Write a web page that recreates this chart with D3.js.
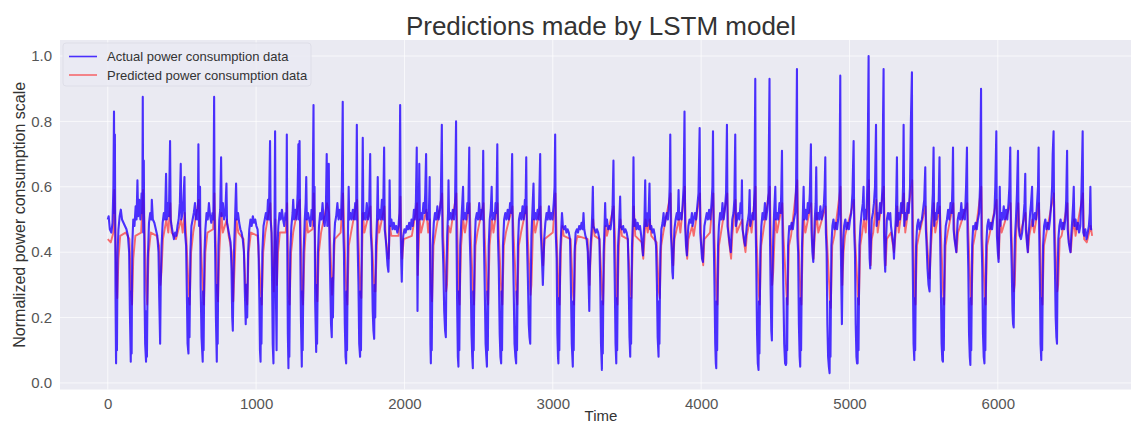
<!DOCTYPE html>
<html>
<head>
<meta charset="utf-8">
<script src="https://cdn.jsdelivr.net/npm/d3@7"></script>
<style>
  body { margin: 0; background: #fff; }
  svg { display: block; font-family: "Liberation Sans", Arial, sans-serif; }
</style>
</head>
<body>
<svg id="chart" width="1131" height="426"></svg>
<script>

var chartTitle = 'Predictions made by LSTM model';
var xLabel = 'Time';
var yLabel = 'Normalized power consumption scale';
var legendLabels = ['Actual power consumption data', 'Predicted power consumption data'];
var xTicks = [0, 1000, 2000, 3000, 4000, 5000, 6000];
var yTicks = [0.0, 0.2, 0.4, 0.6, 0.8, 1.0];

// actual series, readings [time, value]
var actualA = [[0,0.50],[6,0.51],[14,0.47],[24,0.46],[32,0.49],[38,0.60],[42,0.83],[45,0.52],[48,0.76],[52,0.28],[56,0.06],[59,0.30],[62,0.10],[66,0.40],[72,0.47],[80,0.51],[88,0.53],[96,0.50],[106,0.49],[116,0.48],[126,0.47],[136,0.45],[144,0.40],[149,0.22],[155,0.065],[158,0.28],[161,0.09],[165,0.42],[172,0.50],[180,0.48],[188,0.54],[194,0.50],[200,0.62],[205,0.51],[212,0.56],[220,0.50],[228,0.58],[233,0.52],[236,0.875],[239,0.46],[243,0.68],[248,0.26],[252,0.12],[258,0.065],[261,0.22],[264,0.08],[270,0.38],[278,0.49],[286,0.52],[294,0.50],[297,0.56],[304,0.50],[314,0.49],[324,0.47],[334,0.45],[342,0.40],[347,0.26],[353,0.12],[357,0.30],[363,0.42],[370,0.49],[378,0.52],[386,0.50],[393,0.64],[398,0.50],[406,0.55],[412,0.51],[420,0.74],[424,0.50],[430,0.48],[438,0.46],[446,0.44],[454,0.46],[462,0.45],[470,0.48],[478,0.50],[486,0.55],[492,0.67],[496,0.50],[504,0.52],[510,0.56],[517,0.63],[521,0.46],[528,0.42],[534,0.25],[538,0.12],[544,0.09],[547,0.26],[551,0.14],[557,0.40],[564,0.48],[572,0.50],[580,0.52],[588,0.55],[594,0.50],[602,0.53],[607,0.50],[611,0.73],[615,0.48],[622,0.60],[626,0.30],[632,0.14],[640,0.065],[643,0.28],[646,0.10],[652,0.40],[658,0.47],[666,0.52],[674,0.50],[682,0.55],[690,0.51],[698,0.49],[706,0.52],[712,0.50],[717,0.875],[720,0.52],[724,0.40],[729,0.20],[735,0.065],[738,0.30],[741,0.12],[746,0.42],[752,0.50],[758,0.53],[764,0.69],[768,0.51],[776,0.55],[784,0.50],[792,0.52],[800,0.61],[804,0.49],[812,0.47],[820,0.45],[828,0.43],[834,0.35],[839,0.20],[843,0.16],[847,0.30],[852,0.42],[858,0.50],[865,0.61],[870,0.50],[878,0.52],[886,0.49],[894,0.47],[902,0.46],[910,0.44],[918,0.40],[924,0.28],[930,0.18],[935,0.30],[940,0.20],[946,0.40],[954,0.47],[962,0.50],[970,0.48],[978,0.51],[986,0.49],[994,0.50],[1002,0.48],[1010,0.47],[1016,0.42],[1022,0.25],[1026,0.10],[1030,0.065],[1033,0.26],[1036,0.12],[1042,0.40],[1050,0.48],[1058,0.50],[1066,0.52],[1074,0.50],[1080,0.56],[1086,0.50],[1094,0.74],[1098,0.50],[1104,0.46],[1108,0.30],[1112,0.12],[1117,0.06],[1120,0.30],[1124,0.48],[1128,0.77],[1131,0.45],[1134,0.25],[1138,0.10],[1142,0.40],[1150,0.48],[1158,0.52],[1166,0.50],[1174,0.53],[1182,0.50],[1190,0.48],[1198,0.52],[1204,0.50],[1207,0.76],[1210,0.42],[1214,0.15],[1218,0.045],[1221,0.25],[1224,0.08],[1230,0.40],[1238,0.48],[1246,0.52],[1250,0.56],[1256,0.50],[1264,0.53],[1272,0.50],[1280,0.58],[1285,0.73],[1288,0.50],[1293,0.74],[1297,0.45],[1302,0.20],[1308,0.05],[1311,0.28],[1314,0.10],[1320,0.40],[1328,0.50],[1334,0.55],[1338,0.63],[1342,0.50],[1350,0.52],[1358,0.50],[1366,0.48],[1374,0.53],[1380,0.50],[1387,0.85],[1390,0.48],[1394,0.60],[1398,0.25],[1405,0.095],[1408,0.30],[1411,0.12],[1417,0.40]];

var actualB = [[1424,0.48],[1432,0.52],[1440,0.50],[1448,0.55],[1455,0.50],[1462,0.48],[1470,0.52],[1476,0.70],[1480,0.48],[1486,0.52],[1490,0.67],[1494,0.45],[1500,0.30],[1505,0.18],[1510,0.14],[1514,0.32],[1518,0.20],[1524,0.42],[1532,0.49],[1540,0.51],[1548,0.55],[1556,0.50],[1564,0.53],[1572,0.50],[1578,0.60],[1584,0.86],[1587,0.48],[1592,0.40],[1598,0.18],[1603,0.08],[1607,0.06],[1610,0.28],[1613,0.10],[1619,0.45],[1624,0.60],[1628,0.50],[1636,0.52],[1644,0.50],[1652,0.53],[1660,0.50],[1668,0.55],[1674,0.50],[1679,0.79],[1683,0.46],[1690,0.30],[1695,0.12],[1701,0.08],[1704,0.28],[1707,0.10],[1713,0.45],[1719,0.75],[1723,0.50],[1730,0.52],[1738,0.50],[1746,0.55],[1754,0.50],[1762,0.52],[1769,0.70],[1773,0.46],[1780,0.40],[1786,0.22],[1791,0.16],[1796,0.135],[1799,0.30],[1803,0.20],[1808,0.42],[1815,0.50],[1820,0.63],[1824,0.50],[1832,0.53],[1840,0.50],[1848,0.56],[1856,0.50],[1863,0.72],[1867,0.47],[1874,0.44],[1880,0.40],[1886,0.36],[1892,0.34],[1896,0.42],[1900,0.62],[1904,0.48],[1912,0.50],[1920,0.47],[1928,0.49],[1936,0.47],[1944,0.48],[1952,0.46],[1960,0.48],[1966,0.52],[1971,0.85],[1975,0.45],[1979,0.36],[1982,0.31],[1986,0.40],[1992,0.45],[2000,0.47],[2008,0.46],[2016,0.48],[2024,0.47],[2032,0.49],[2040,0.47],[2048,0.50],[2056,0.48],[2064,0.53],[2070,0.50],[2077,0.55],[2083,0.72],[2086,0.40],[2088,0.22],[2092,0.45],[2096,0.50],[2100,0.67],[2104,0.50],[2112,0.52],[2120,0.50],[2128,0.55],[2135,0.52],[2140,0.58],[2146,0.70],[2150,0.50],[2158,0.52],[2164,0.50],[2170,0.63],[2173,0.35],[2175,0.12],[2178,0.06],[2181,0.28],[2184,0.10],[2190,0.42],[2198,0.49],[2206,0.52],[2214,0.50],[2222,0.54],[2230,0.50],[2238,0.52],[2245,0.56],[2252,0.79],[2256,0.45],[2262,0.36],[2268,0.22],[2274,0.16],[2279,0.14],[2282,0.30],[2288,0.45],[2294,0.52],[2297,0.62],[2301,0.50],[2310,0.52],[2318,0.50],[2326,0.53],[2334,0.50],[2341,0.55],[2348,0.80],[2351,0.45],[2355,0.25],[2360,0.08],[2364,0.05],[2367,0.28],[2370,0.10],[2376,0.42],[2384,0.50],[2390,0.55],[2395,0.60],[2399,0.50],[2408,0.52],[2416,0.50],[2424,0.55],[2430,0.52],[2437,0.72],[2440,0.45],[2446,0.35],[2452,0.15],[2457,0.08],[2461,0.045],[2464,0.28],[2467,0.10],[2473,0.42],[2480,0.50],[2488,0.52],[2496,0.50],[2504,0.55],[2512,0.50],[2520,0.53],[2526,0.50],[2531,0.71],[2535,0.45],[2541,0.30],[2547,0.12],[2552,0.08],[2556,0.05],[2559,0.28],[2562,0.10],[2568,0.42],[2575,0.50],[2582,0.53],[2588,0.60],[2592,0.50],[2600,0.52],[2608,0.50],[2614,0.55],[2620,0.52],[2626,0.73],[2630,0.45],[2636,0.35],[2642,0.15],[2647,0.08],[2652,0.06],[2655,0.28],[2658,0.10],[2664,0.42],[2672,0.50],[2680,0.52],[2688,0.50],[2696,0.53],[2704,0.50],[2712,0.55],[2720,0.52],[2726,0.70],[2730,0.45],[2736,0.30],[2742,0.12],[2748,0.08],[2753,0.06],[2756,0.28],[2759,0.10],[2765,0.42],[2772,0.50],[2780,0.52],[2788,0.50],[2796,0.54],[2804,0.50],[2812,0.56],[2816,0.52],[2821,0.69],[2825,0.45],[2832,0.32],[2838,0.18],[2843,0.14],[2848,0.12],[2851,0.30],[2856,0.45],[2862,0.52],[2870,0.61],[2874,0.50],[2882,0.52],[2890,0.50],[2898,0.53],[2906,0.50],[2915,0.70],[2919,0.46],[2925,0.40],[2930,0.34],[2933,0.30],[2937,0.36],[2942,0.44]];

var actualC = [[2950,0.49],[2958,0.52],[2966,0.50],[2974,0.54],[2982,0.50],[2990,0.52],[2998,0.50],[3006,0.55],[3012,0.60],[3016,0.76],[3020,0.46],[3026,0.38],[3031,0.15],[3035,0.08],[3038,0.06],[3041,0.26],[3044,0.10],[3050,0.40],[3056,0.46],[3062,0.52],[3068,0.48],[3076,0.47],[3084,0.48],[3092,0.46],[3100,0.47],[3108,0.46],[3116,0.44],[3122,0.30],[3128,0.12],[3135,0.05],[3138,0.25],[3141,0.10],[3147,0.40],[3154,0.46],[3162,0.47],[3170,0.46],[3178,0.48],[3186,0.47],[3194,0.49],[3202,0.47],[3207,0.52],[3212,0.47],[3220,0.45],[3228,0.44],[3236,0.40],[3242,0.30],[3246,0.22],[3250,0.35],[3256,0.43],[3262,0.47],[3266,0.52],[3270,0.60],[3274,0.48],[3282,0.47],[3290,0.46],[3298,0.47],[3306,0.46],[3314,0.44],[3320,0.30],[3325,0.12],[3331,0.04],[3334,0.25],[3337,0.09],[3343,0.40],[3349,0.48],[3353,0.55],[3357,0.48],[3365,0.50],[3373,0.47],[3381,0.48],[3389,0.47],[3397,0.50],[3403,0.54],[3409,0.68],[3413,0.45],[3418,0.30],[3423,0.12],[3428,0.06],[3431,0.26],[3434,0.10],[3440,0.42],[3447,0.48],[3454,0.57],[3458,0.48],[3466,0.47],[3474,0.48],[3482,0.46],[3490,0.47],[3498,0.46],[3506,0.44],[3512,0.30],[3517,0.14],[3522,0.08],[3525,0.26],[3528,0.12],[3534,0.42],[3540,0.50],[3544,0.69],[3548,0.48],[3556,0.50],[3564,0.47],[3572,0.49],[3580,0.47],[3588,0.48],[3596,0.45],[3602,0.42],[3608,0.39],[3612,0.44],[3618,0.50],[3623,0.62],[3627,0.48],[3632,0.52],[3638,0.48],[3646,0.52],[3652,0.61],[3656,0.47],[3664,0.48],[3672,0.46],[3680,0.47],[3688,0.45],[3696,0.42],[3702,0.30],[3707,0.14],[3713,0.08],[3716,0.25],[3719,0.12],[3725,0.40],[3732,0.47],[3740,0.49],[3747,0.52],[3752,0.48],[3760,0.50],[3768,0.52],[3776,0.50],[3784,0.55],[3788,0.60],[3792,0.76],[3796,0.46],[3802,0.40],[3806,0.34],[3810,0.32],[3814,0.40],[3820,0.47],[3828,0.50],[3836,0.52],[3843,0.50],[3848,0.59],[3852,0.50],[3860,0.52],[3868,0.50],[3876,0.55],[3882,0.60],[3888,0.83],[3892,0.48],[3898,0.42],[3904,0.39],[3908,0.44],[3914,0.48],[3922,0.50],[3930,0.49],[3938,0.52],[3942,0.48],[3950,0.50],[3958,0.52],[3966,0.50],[3974,0.54],[3982,0.58],[3990,0.78],[3994,0.46],[4000,0.42],[4006,0.38],[4012,0.37],[4016,0.42],[4022,0.48],[4030,0.50],[4038,0.52],[4046,0.50],[4054,0.53],[4062,0.50],[4070,0.55],[4076,0.60],[4080,0.77],[4084,0.46],[4090,0.30],[4095,0.12],[4099,0.06],[4102,0.045],[4105,0.25],[4108,0.10],[4114,0.42],[4120,0.48],[4128,0.52],[4136,0.50],[4144,0.55],[4152,0.50],[4160,0.53],[4168,0.58],[4174,0.79],[4178,0.48],[4186,0.45],[4194,0.42],[4200,0.40],[4204,0.45],[4210,0.50],[4218,0.52],[4224,0.56],[4230,0.76],[4234,0.48],[4242,0.50],[4250,0.52],[4258,0.50],[4266,0.55],[4271,0.52],[4275,0.62],[4279,0.47],[4286,0.45],[4292,0.43],[4297,0.42],[4302,0.45],[4308,0.48],[4316,0.50],[4322,0.52],[4327,0.59],[4331,0.48],[4339,0.50],[4347,0.52],[4354,0.50],[4360,0.60],[4365,0.93],[4368,0.48],[4372,0.35],[4377,0.15],[4382,0.06],[4387,0.04],[4390,0.25],[4393,0.09],[4399,0.40],[4406,0.48]];

var actualD = [[4414,0.52],[4422,0.50],[4430,0.55],[4438,0.50],[4446,0.53],[4454,0.58],[4461,0.93],[4464,0.45],[4468,0.30],[4473,0.16],[4477,0.13],[4480,0.30],[4486,0.44],[4492,0.52],[4500,0.60],[4504,0.50],[4512,0.52],[4520,0.50],[4528,0.55],[4536,0.52],[4540,0.58],[4545,0.71],[4549,0.46],[4554,0.30],[4560,0.12],[4566,0.06],[4571,0.055],[4574,0.06],[4577,0.26],[4580,0.10],[4586,0.42],[4594,0.48],[4602,0.47],[4610,0.49],[4618,0.47],[4626,0.50],[4634,0.52],[4640,0.60],[4646,0.96],[4649,0.45],[4654,0.40],[4659,0.18],[4664,0.08],[4668,0.05],[4671,0.26],[4674,0.10],[4680,0.42],[4686,0.52],[4691,0.60],[4695,0.50],[4703,0.53],[4711,0.50],[4719,0.55],[4726,0.52],[4733,0.58],[4740,0.73],[4744,0.47],[4750,0.40],[4756,0.37],[4760,0.42],[4766,0.50],[4772,0.55],[4776,0.66],[4780,0.50],[4788,0.52],[4796,0.50],[4804,0.54],[4812,0.50],[4820,0.52],[4828,0.55],[4833,0.60],[4837,0.69],[4841,0.46],[4846,0.40],[4851,0.18],[4856,0.08],[4861,0.05],[4866,0.03],[4869,0.25],[4872,0.08],[4878,0.42],[4885,0.48],[4892,0.50],[4900,0.47],[4908,0.49],[4916,0.47],[4924,0.50],[4932,0.55],[4938,0.94],[4941,0.45],[4945,0.30],[4949,0.18],[4953,0.34],[4958,0.44],[4964,0.48],[4972,0.50],[4980,0.47],[4988,0.49],[4996,0.47],[5004,0.50],[5012,0.52],[5020,0.58],[5028,0.74],[5032,0.46],[5037,0.40],[5042,0.18],[5047,0.08],[5051,0.06],[5055,0.06],[5058,0.26],[5061,0.10],[5067,0.42],[5074,0.48],[5082,0.52],[5090,0.55],[5095,0.60],[5099,0.50],[5106,0.53],[5114,0.50],[5120,0.60],[5124,0.75],[5129,1.0],[5132,0.46],[5136,0.38],[5140,0.35],[5144,0.42],[5150,0.50],[5158,0.52],[5165,0.55],[5172,0.60],[5179,0.79],[5183,0.48],[5190,0.52],[5198,0.50],[5206,0.55],[5214,0.52],[5222,0.60],[5226,0.80],[5230,0.96],[5233,0.45],[5237,0.38],[5241,0.34],[5245,0.42],[5252,0.50],[5260,0.52],[5268,0.50],[5275,0.52],[5280,0.48],[5288,0.45],[5296,0.42],[5300,0.38],[5305,0.44],[5312,0.50],[5316,0.58],[5320,0.69],[5324,0.48],[5332,0.52],[5340,0.50],[5348,0.55],[5356,0.52],[5361,0.60],[5365,0.79],[5369,0.48],[5376,0.52],[5384,0.50],[5392,0.55],[5400,0.52],[5408,0.60],[5414,0.80],[5421,0.95],[5424,0.46],[5428,0.30],[5432,0.12],[5437,0.07],[5440,0.26],[5443,0.10],[5449,0.42],[5456,0.48],[5464,0.50],[5472,0.47],[5480,0.49],[5488,0.50],[5496,0.53],[5504,0.56],[5511,0.66],[5515,0.47],[5520,0.42],[5526,0.35],[5533,0.30],[5540,0.28],[5544,0.38],[5550,0.47],[5556,0.52],[5562,0.58],[5567,0.72],[5571,0.48],[5578,0.52],[5586,0.50],[5594,0.55],[5600,0.52],[5607,0.69],[5611,0.45],[5616,0.30],[5621,0.12],[5626,0.07],[5630,0.065],[5633,0.26],[5636,0.10],[5642,0.42],[5649,0.48],[5657,0.50],[5665,0.53],[5673,0.50],[5681,0.55],[5689,0.52],[5694,0.60],[5698,0.72],[5702,0.47],[5708,0.44],[5714,0.42],[5720,0.40],[5724,0.45],[5730,0.50],[5738,0.52],[5746,0.50],[5754,0.55],[5762,0.50],[5770,0.53],[5778,0.50],[5786,0.60],[5792,0.72],[5796,0.46],[5801,0.35],[5806,0.15],[5811,0.08],[5815,0.055],[5818,0.26],[5821,0.10],[5827,0.42],[5834,0.48],[5842,0.47],[5850,0.49],[5858,0.47],[5866,0.50],[5874,0.52],[5880,0.60],[5887,0.90],[5890,0.45],[5895,0.35],[5900,0.15],[5905,0.08],[5910,0.06],[5913,0.26],[5916,0.10],[5922,0.42],[5929,0.48],[5937,0.50],[5945,0.47],[5953,0.49],[5961,0.47],[5969,0.50],[5977,0.52],[5983,0.60],[5990,0.77],[5994,0.45],[6000,0.40],[6005,0.37],[6009,0.45],[6013,0.60],[6017,0.48],[6024,0.52],[6032,0.50],[6040,0.54],[6048,0.50],[6056,0.53],[6064,0.50],[6072,0.55],[6078,0.60],[6084,0.72],[6088,0.46],[6094,0.35],[6099,0.22],[6103,0.18],[6107,0.17],[6110,0.30],[6115,0.44],[6122,0.50],[6129,0.58],[6136,0.71],[6140,0.48],[6148,0.45],[6156,0.44],[6164,0.46],[6172,0.50],[6180,0.55],[6185,0.64],[6189,0.47],[6196,0.43],[6202,0.40],[6206,0.45],[6212,0.48],[6218,0.52],[6224,0.55],[6231,0.60],[6235,0.48],[6242,0.50],[6250,0.52],[6258,0.50],[6266,0.56],[6271,0.60],[6275,0.72],[6279,0.46],[6284,0.30],[6288,0.12],[6293,0.07],[6296,0.26],[6299,0.10],[6305,0.42],[6312,0.48],[6320,0.50],[6328,0.47],[6336,0.49],[6344,0.47],[6352,0.50],[6360,0.55],[6366,0.60],[6370,0.70],[6376,0.77],[6380,0.46],[6385,0.35],[6390,0.20],[6395,0.14],[6399,0.12],[6402,0.30],[6408,0.44],[6415,0.48],[6423,0.50],[6431,0.47],[6439,0.49],[6447,0.47],[6455,0.50],[6461,0.56],[6467,0.71],[6471,0.47],[6478,0.43],[6485,0.41],[6490,0.40],[6495,0.45],[6502,0.50],[6508,0.55],[6512,0.60],[6516,0.48],[6524,0.50],[6532,0.47],[6540,0.49],[6548,0.46],[6556,0.48],[6562,0.55],[6567,0.65],[6572,0.77],[6576,0.46],[6582,0.45],[6590,0.47],[6598,0.44],[6606,0.46],[6614,0.48],[6620,0.52],[6624,0.60],[6628,0.47],[6636,0.47]];

// predicted series (smoother, sits a bit under the actual baseline)
var predictedA = [[0,0.44],[20,0.43],[38,0.46],[44,0.59],[50,0.50],[58,0.30],[64,0.26],[72,0.38],[84,0.45],[120,0.46],[146,0.44],[157,0.28],[164,0.24],[172,0.38],[186,0.45],[225,0.46],[238,0.59],[246,0.50],[260,0.28],[266,0.24],[276,0.40],[290,0.46],[330,0.45],[346,0.42],[355,0.30],[362,0.34],[372,0.44],[395,0.50],[408,0.46],[422,0.55],[430,0.46],[460,0.44],[494,0.50],[505,0.46],[519,0.52],[530,0.44],[546,0.28],[552,0.24],[562,0.40],[576,0.46],[613,0.56],[622,0.48],[642,0.28],[648,0.24],[658,0.40],[672,0.46],[710,0.47],[719,0.58],[726,0.46],[737,0.28],[743,0.25],[752,0.40],[766,0.52],[776,0.46],[802,0.50],[815,0.45],[836,0.40],[846,0.25],[852,0.32],[862,0.44],[867,0.50],[880,0.46],[915,0.44],[930,0.28],[940,0.24],[950,0.40],[965,0.46],[1010,0.45],[1032,0.28],[1038,0.24],[1048,0.40],[1062,0.46],[1096,0.55],[1104,0.46],[1119,0.28],[1130,0.50],[1140,0.30],[1148,0.40],[1160,0.46],[1200,0.46],[1209,0.55],[1220,0.27],[1226,0.24],[1236,0.40],[1250,0.46],[1287,0.55],[1295,0.56],[1310,0.27],[1316,0.24],[1326,0.40],[1340,0.50],[1350,0.46],[1380,0.47],[1389,0.58],[1396,0.45],[1407,0.28],[1413,0.25],[1423,0.40],[1438,0.46],[1478,0.55],[1492,0.52],[1502,0.40],[1512,0.27],[1520,0.32],[1530,0.44],[1570,0.46],[1586,0.58],[1595,0.45],[1609,0.27],[1615,0.24],[1625,0.42],[1640,0.46],[1681,0.56],[1690,0.44],[1703,0.27],[1709,0.26],[1720,0.52],[1730,0.46],[1771,0.54],[1780,0.44],[1798,0.28],[1804,0.28],[1814,0.42],[1822,0.50],[1830,0.46],[1865,0.54],[1874,0.44],[1893,0.38],[1902,0.48],[1912,0.45],[1960,0.45],[1973,0.57],[1980,0.44],[1985,0.38],[1995,0.44],[2050,0.45],[2085,0.55],[2090,0.33],[2098,0.44],[2102,0.50],[2112,0.46],[2148,0.53],[2160,0.46],[2172,0.50],[2180,0.28],[2186,0.25],[2196,0.42],[2210,0.46],[2254,0.58],[2262,0.44],[2281,0.28],[2287,0.30],[2297,0.48],[2310,0.46],[2350,0.58],[2358,0.44],[2366,0.27],[2372,0.24],[2382,0.42],[2396,0.50],[2408,0.46],[2439,0.55],[2448,0.44],[2463,0.27],[2469,0.24],[2479,0.42],[2492,0.46],[2533,0.55],[2542,0.44],[2558,0.27],[2564,0.24],[2574,0.42],[2590,0.50],[2600,0.46],[2628,0.55],[2637,0.44],[2654,0.27],[2660,0.24],[2670,0.42],[2684,0.46],[2728,0.54],[2737,0.44],[2755,0.27],[2761,0.24],[2771,0.42],[2786,0.46],[2823,0.54],[2832,0.44],[2850,0.27],[2856,0.30],[2866,0.46],[2872,0.50],[2882,0.46],[2917,0.54],[2926,0.44],[2935,0.36],[2945,0.44]];

var predictedB = [[3000,0.46],[3018,0.58],[3026,0.45],[3040,0.27],[3046,0.24],[3056,0.42],[3064,0.48],[3074,0.45],[3120,0.44],[3137,0.27],[3143,0.24],[3153,0.42],[3166,0.45],[3235,0.44],[3248,0.30],[3256,0.40],[3272,0.50],[3282,0.45],[3315,0.44],[3333,0.27],[3339,0.24],[3349,0.42],[3355,0.48],[3365,0.45],[3411,0.54],[3420,0.44],[3430,0.27],[3436,0.24],[3446,0.42],[3456,0.50],[3466,0.45],[3505,0.44],[3524,0.28],[3530,0.26],[3540,0.44],[3546,0.54],[3556,0.45],[3600,0.43],[3610,0.38],[3618,0.44],[3625,0.50],[3640,0.46],[3654,0.50],[3664,0.45],[3700,0.43],[3715,0.28],[3721,0.26],[3731,0.42],[3745,0.46],[3794,0.58],[3802,0.44],[3812,0.36],[3820,0.44],[3850,0.50],[3860,0.46],[3890,0.60],[3898,0.44],[3906,0.38],[3914,0.44],[3940,0.48],[3950,0.45],[3992,0.58],[4000,0.44],[4014,0.36],[4022,0.44],[4060,0.46],[4082,0.58],[4090,0.44],[4104,0.27],[4110,0.24],[4120,0.42],[4134,0.46],[4176,0.58],[4186,0.44],[4202,0.38],[4210,0.45],[4232,0.56],[4240,0.46],[4277,0.50],[4286,0.44],[4299,0.40],[4308,0.45],[4329,0.50],[4340,0.46],[4367,0.60],[4374,0.44],[4389,0.27],[4395,0.24],[4405,0.42],[4418,0.46],[4463,0.60],[4470,0.44],[4479,0.30],[4486,0.34],[4496,0.46],[4502,0.50],[4512,0.46],[4547,0.55],[4556,0.44],[4576,0.27],[4582,0.24],[4592,0.42],[4606,0.45],[4648,0.62],[4656,0.44],[4670,0.27],[4676,0.24],[4686,0.44],[4693,0.50],[4703,0.46],[4742,0.55],[4750,0.44],[4758,0.38],[4766,0.45],[4778,0.52],[4790,0.46],[4839,0.54],[4848,0.44],[4868,0.26],[4874,0.23],[4884,0.42],[4898,0.45],[4940,0.60],[4947,0.44],[4952,0.30],[4960,0.40],[4970,0.45],[5030,0.56],[5038,0.44],[5057,0.27],[5063,0.24],[5073,0.42],[5086,0.46],[5097,0.50],[5110,0.46],[5131,0.62],[5138,0.44],[5143,0.36],[5150,0.44],[5160,0.46],[5181,0.56],[5190,0.46],[5232,0.60],[5239,0.44],[5244,0.36],[5252,0.44],[5280,0.46],[5300,0.40],[5310,0.45],[5322,0.54],[5332,0.46],[5367,0.58],[5376,0.46],[5423,0.62],[5430,0.44],[5439,0.27],[5445,0.24],[5455,0.42],[5468,0.45],[5513,0.54],[5522,0.44],[5540,0.32],[5550,0.42],[5569,0.55],[5578,0.46],[5609,0.54],[5618,0.44],[5632,0.27],[5638,0.24],[5648,0.42],[5662,0.46],[5700,0.55],[5710,0.44],[5722,0.40],[5732,0.46],[5794,0.55],[5803,0.44],[5817,0.27],[5823,0.24],[5833,0.42],[5846,0.45],[5889,0.60],[5896,0.44],[5912,0.27],[5918,0.24],[5928,0.42],[5942,0.45],[5992,0.56],[6000,0.44],[6007,0.38],[6015,0.50],[6026,0.46],[6086,0.55],[6094,0.44],[6108,0.28],[6114,0.30],[6124,0.46],[6138,0.55],[6148,0.45],[6187,0.52],[6196,0.44],[6204,0.40],[6212,0.45],[6233,0.50],[6245,0.46],[6277,0.55],[6285,0.44],[6295,0.27],[6301,0.24],[6311,0.42],[6324,0.45],[6378,0.58],[6386,0.44],[6401,0.28],[6407,0.30],[6417,0.44],[6430,0.45],[6469,0.55],[6478,0.44],[6492,0.40],[6500,0.45],[6514,0.50],[6524,0.45],[6574,0.58],[6582,0.44],[6600,0.43],[6626,0.48],[6636,0.45]];


function drawChart() {
   var plot = { left: 60, top: 40, right: 1142, bottom: 389.5 };

   var svg = d3.select('#chart');

   var x = d3.scaleLinear().domain([-322, 6972]).range([plot.left, plot.right]);
   var y = d3.scaleLinear().domain([-0.02, 1.049]).range([plot.bottom, plot.top]);

   var byTime = function(a, b) { return a[0] - b[0]; };
   var actual = [].concat(actualA, actualB, actualC, actualD).sort(byTime);
   var predicted = [].concat(predictedA, predictedB).sort(byTime);

   // seaborn darkgrid face
   svg.append('rect')
      .attr('x', plot.left)
      .attr('y', plot.top)
      .attr('width', plot.right - plot.left)
      .attr('height', plot.bottom - plot.top)
      .attr('fill', '#eaeaf2');

   svg.append('clipPath').attr('id', 'plotClip')
      .append('rect')
      .attr('x', plot.left)
      .attr('y', plot.top)
      .attr('width', plot.right - plot.left)
      .attr('height', plot.bottom - plot.top);

   // grid
   var grid = svg.append('g').attr('class', 'grid');
   grid.selectAll('.vgrid')
      .data(xTicks)
      .enter().append('line')
      .attr('class', 'vgrid')
      .attr('x1', function(d) { return x(d); })
      .attr('x2', function(d) { return x(d); })
      .attr('y1', plot.top)
      .attr('y2', plot.bottom)
      .attr('stroke', '#fff')
      .attr('stroke-opacity', 0.7);
   grid.selectAll('.hgrid')
      .data(yTicks)
      .enter().append('line')
      .attr('class', 'hgrid')
      .attr('x1', plot.left)
      .attr('x2', plot.right)
      .attr('y1', function(d) { return y(d); })
      .attr('y2', function(d) { return y(d); })
      .attr('stroke', '#fff')
      .attr('stroke-opacity', 0.7);

   // axes: labels only, no spines or tick marks
   var xAxis = svg.append('g')
      .attr('transform', 'translate(0,' + plot.bottom + ')')
      .call(d3.axisBottom(x).tickValues(xTicks).tickSize(0).tickPadding(9).tickFormat(d3.format('d')));
   var yAxis = svg.append('g')
      .attr('transform', 'translate(' + plot.left + ',0)')
      .call(d3.axisLeft(y).tickValues(yTicks).tickSize(0).tickPadding(8).tickFormat(d3.format('.1f')));
   [xAxis, yAxis].forEach(function(ax) {
      ax.select('.domain').remove();
      ax.selectAll('text')
        .attr('fill', '#555')
        .style('font-size', '15px')
        .style('font-family', '"Liberation Sans", Arial, sans-serif');
   });

   var line = d3.line()
      .x(function(d) { return x(d[0]); })
      .y(function(d) { return y(d[1]); });

   var series = svg.append('g').attr('clip-path', 'url(#plotClip)');

   series.append('path')
      .datum(predicted)
      .attr('d', line)
      .attr('fill', 'none')
      .attr('stroke', 'red')
      .attr('stroke-opacity', 0.55)
      .attr('stroke-width', 1.9)
      .attr('stroke-linejoin', 'round');

   series.append('path')
      .datum(actual)
      .attr('d', line)
      .attr('fill', 'none')
      .attr('stroke', '#2200ff')
      .attr('stroke-opacity', 0.8)
      .attr('stroke-width', 2.1)
      .attr('stroke-linejoin', 'round');

   // title and axis labels
   svg.append('text')
      .attr('x', 601)
      .attr('y', 35)
      .attr('text-anchor', 'middle')
      .attr('fill', '#333')
      .style('font-size', '26px')
      .text(chartTitle);

   // sits right at the bottom edge, as in the source picture
   svg.append('text')
      .attr('x', 601)
      .attr('y', 421)
      .attr('text-anchor', 'middle')
      .attr('fill', '#333')
      .style('font-size', '15px')
      .text(xLabel);

   svg.append('text')
      .attr('transform', 'translate(25,' + ((plot.top + plot.bottom) / 2) + ') rotate(-90)')
      .attr('text-anchor', 'middle')
      .attr('fill', '#333')
      .style('font-size', '16px')
      .text(yLabel);

   // legend
   var legendColors = [['#2200ff', 0.8], ['red', 0.55]];
   var legend = svg.append('g').attr('transform', 'translate(63,43)');
   legend.append('rect')
      .attr('width', 248)
      .attr('height', 43)
      .attr('rx', 3)
      .attr('fill', '#eaeaf2')
      .attr('fill-opacity', 0.8)
      .attr('stroke', '#dedee8');
   var items = legend.selectAll('.item')
      .data(legendLabels)
      .enter().append('g')
      .attr('class', 'item')
      .attr('transform', function(d, i) { return 'translate(0,' + (13.5 + i * 18.5) + ')'; });
   items.append('line')
      .attr('x1', 6).attr('x2', 34)
      .attr('stroke', function(d, i) { return legendColors[i][0]; })
      .attr('stroke-opacity', function(d, i) { return legendColors[i][1]; })
      .attr('stroke-width', 1.6);
   items.append('text')
      .attr('x', 44)
      .attr('dy', '0.35em')
      .attr('fill', '#333')
      .style('font-size', '13px')
      .text(function(d) { return d; });
}

drawChart();
</script>
</body>
</html>
